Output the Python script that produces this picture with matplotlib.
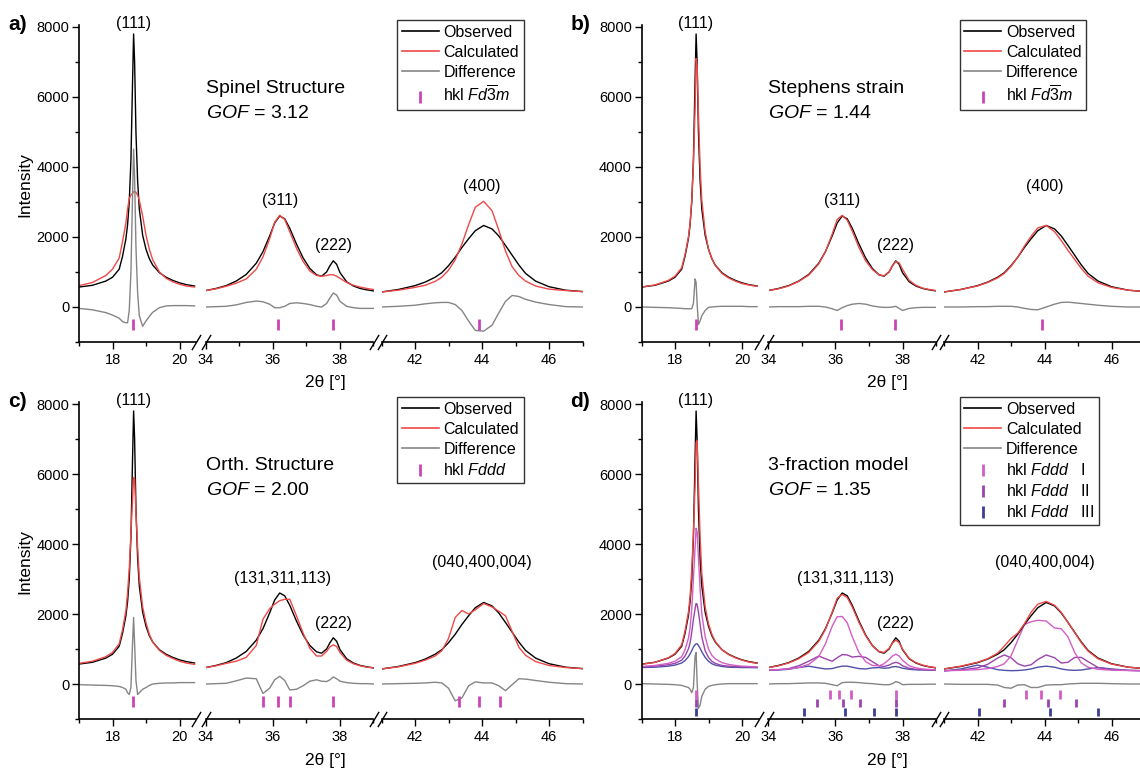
import numpy as np
import matplotlib
matplotlib.use('Agg')
import matplotlib.pyplot as plt
from matplotlib.lines import Line2D
from matplotlib.ticker import MultipleLocator

plt.rcParams['font.family'] = ['Liberation Sans', 'DejaVu Sans']
plt.rcParams['mathtext.fontset'] = 'custom'
plt.rcParams['mathtext.rm'] = 'Liberation Sans'
plt.rcParams['mathtext.it'] = 'Liberation Sans:italic'

# 2theta grid (three windows of the broken axis)
two_theta = [17.0, 17.4, 17.8, 18.0, 18.2, 18.3, 18.4, 18.45, 18.5, 18.55, 18.6, 18.63, 18.66,
             18.7, 18.75, 18.8, 18.9, 19.0, 19.1, 19.2, 19.4, 19.6, 19.8, 20.0, 20.2, 20.45,
             34.0, 34.3, 34.6, 34.9, 35.2, 35.5, 35.7, 35.9, 36.05, 36.2, 36.35, 36.5, 36.7, 36.9,
             37.1, 37.3, 37.45, 37.6, 37.7, 37.8, 37.9, 38.0, 38.2, 38.4, 38.6, 38.8, 39.0,
             41.0, 41.5, 42.0, 42.3, 42.6, 42.8, 43.0, 43.2, 43.4, 43.6, 43.8, 44.05, 44.3, 44.5,
             44.7, 44.9, 45.1, 45.3, 45.6, 46.0, 46.5, 47.0]

observed = [570, 620, 740, 850, 1080, 1450, 1950, 2350, 3000, 4200, 6500, 7800, 7000,
            5000, 3600, 2800, 2050, 1650, 1380, 1200, 980, 850, 760, 690, 640, 600,
            470, 530, 610, 740, 930, 1250, 1580, 2030, 2400, 2600, 2520, 2250, 1800, 1400,
            1100, 920, 880, 1000, 1180, 1320, 1220, 980, 720, 600, 530, 490, 460,
            430, 500, 610, 710, 850, 980, 1180, 1420, 1700, 1950, 2180, 2330, 2230, 2030,
            1760, 1480, 1200, 960, 740, 580, 480, 440]

calc_a = [610, 700, 900, 1080, 1400, 1870, 2400, 2800, 3100, 3200, 3250, 3290, 3300,
          3280, 3200, 3050, 2600, 2050, 1650, 1350, 1000, 820, 720, 650, 600, 570,
          470, 520, 590, 680, 800, 1080, 1430, 1950, 2420, 2620, 2500, 2150, 1680, 1300,
          1030, 900, 880, 900, 920, 920, 880, 820, 700, 620, 570, 530, 500,
          430, 480, 560, 620, 730, 850, 1050, 1350, 1800, 2350, 2850, 3020, 2750, 2200,
          1600, 1150, 900, 740, 600, 510, 470, 440]

calc_b = [570, 630, 760, 880, 1120, 1500, 2000, 2400, 3050, 4100, 5700, 7100, 6900,
          5500, 4000, 3050, 2150, 1660, 1380, 1190, 960, 830, 740, 670, 630, 590,
          470, 520, 600, 730, 910, 1230, 1580, 2080, 2500, 2620, 2480, 2170, 1700, 1320,
          1070, 920, 890, 1010, 1180, 1300, 1260, 1080, 760, 620, 540, 500, 470,
          430, 500, 600, 700, 830, 960, 1160, 1420, 1740, 2020, 2260, 2330, 2150, 1900,
          1620, 1360, 1100, 880, 690, 560, 480, 440]

calc_c = [590, 650, 780, 900, 1150, 1550, 2100, 2600, 3300, 4300, 5300, 5900, 5850,
          4900, 3900, 3050, 2200, 1750, 1420, 1200, 960, 820, 730, 650, 600, 560,
          470, 520, 590, 650, 760, 1100, 1850, 2150, 2280, 2380, 2420, 2420, 1950, 1450,
          1020, 800, 800, 930, 1060, 1120, 1070, 900, 680, 580, 520, 480, 460,
          430, 490, 590, 680, 800, 950, 1300, 1900, 2100, 2000, 2120, 2300, 2200, 2080,
          1950, 1500, 1050, 820, 640, 530, 470, 440]

calc_d = [560, 620, 750, 870, 1120, 1520, 2050, 2500, 3250, 4300, 5700, 6900, 6950,
          5700, 4200, 3150, 2200, 1720, 1420, 1220, 980, 840, 750, 680, 630, 590,
          470, 520, 600, 720, 900, 1220, 1560, 2050, 2450, 2560, 2470, 2200, 1760, 1380,
          1090, 930, 900, 1020, 1170, 1250, 1180, 1000, 730, 610, 540, 495, 465,
          430, 510, 620, 720, 880, 1080, 1300, 1450, 1720, 2050, 2280, 2360, 2250, 2050,
          1760, 1470, 1180, 940, 720, 570, 480, 440]

# single fractions of the 3-fraction model (panel d)
frac_1 = [500, 530, 590, 650, 780, 980, 1300, 1600, 2150, 3000, 3900, 4450, 4350,
          3600, 2700, 2000, 1350, 1000, 820, 720, 610, 560, 530, 510, 500, 490,
          400, 410, 430, 470, 560, 780, 1150, 1650, 1920, 1930, 1750, 1350, 900, 640,
          530, 520, 580, 700, 800, 850, 800, 680, 520, 460, 430, 415, 405,
          380, 390, 410, 440, 500, 580, 800, 1250, 1700, 1780, 1820, 1800, 1600, 1580,
          1350, 900, 600, 480, 420, 395, 385, 380]
frac_2 = [490, 510, 550, 590, 680, 800, 1000, 1170, 1480, 1850, 2150, 2300, 2280,
          2050, 1700, 1350, 950, 760, 650, 590, 530, 510, 500, 490, 490, 480,
          400, 410, 440, 520, 650, 800, 720, 650, 750, 840, 830, 770, 790, 760,
          640, 520, 500, 540, 590, 620, 590, 520, 450, 420, 410, 405, 400,
          380, 400, 460, 560, 740, 830, 750, 580, 510, 550, 700, 830, 750, 600,
          620, 760, 760, 640, 470, 410, 390, 380]
frac_3 = [470, 480, 510, 540, 600, 670, 780, 860, 950, 1060, 1120, 1150, 1150,
          1100, 1020, 920, 760, 650, 580, 540, 500, 480, 475, 470, 470, 465,
          390, 400, 420, 470, 510, 460, 430, 440, 480, 510, 510, 480, 440, 430,
          460, 470, 450, 460, 490, 500, 480, 450, 420, 405, 400, 395, 390,
          370, 430, 540, 480, 410, 390, 380, 385, 400, 430, 480, 510, 480, 430,
          400, 390, 400, 430, 470, 430, 390, 375]

hkl_spinel = [18.62, 36.15, 37.78, 43.92]
hkl_orth = [18.62, 35.7, 36.15, 36.5, 37.78, 43.3, 43.92, 44.55]
hkl_1 = [18.62, 35.84, 36.1, 36.46, 37.8, 43.45, 43.9, 44.45]
hkl_2 = [18.62, 35.46, 36.22, 36.73, 37.8, 42.8, 44.1, 44.93]
hkl_3 = [18.62, 35.05, 36.28, 37.15, 37.82, 42.03, 44.15, 45.6]

tt = np.array(two_theta)
obs = np.array(observed, dtype=float)

RED = '#f04848'
GRAY = '#858585'
MAG = '#cc44b4'
C1, C2, C3 = '#d25ec6', '#9a44ac', '#3c3c94'

W, H = 1140, 771
fig = plt.figure(figsize=(W / 100, H / 100), dpi=100)

segments = [(17, 20.5), (34, 39), (41, 47)]
seg_px = [(79, 196.25), (206, 373.5), (381.5, 582.5)]
y_top, y_bot = 25.25, 342


def px_axes(x0, x1, y0, y1):
    return fig.add_axes([x0 / W, 1 - y1 / H, (x1 - x0) / W, (y1 - y0) / H])


def draw_panel(dx, dy, calc, tag, title, gof, peaks, hkl_rows, leg_extra, fracs=(), ylabel=False):
    calc = np.array(calc, dtype=float)
    diff = obs - calc
    brk = dict(marker=[(-0.6, -1), (0.6, 1)], markersize=11, linestyle='none',
               color='k', mec='k', mew=1, clip_on=False)
    for i, ((lo, hi), (p0, p1)) in enumerate(zip(segments, seg_px)):
        ax = px_axes(p0 + dx, p1 + dx, y_top + dy, y_bot + dy)
        m = (tt >= lo) & (tt <= hi)
        for vals, col in fracs:
            ax.plot(tt[m], np.array(vals)[m], color=col, lw=1)
        ax.plot(tt[m], obs[m], color='k', lw=1)
        ax.plot(tt[m], calc[m], color=RED, lw=1)
        ax.plot(tt[m], diff[m], color=GRAY, lw=1)
        for pos, col, ylo, yhi in hkl_rows:
            p = np.array(pos)
            p = p[(p >= lo) & (p <= hi)]
            ax.vlines(p, ylo, yhi, color=col, lw=2)
        ax.set_xlim(lo, hi)
        ax.set_ylim(-1000, 8050)
        for s in ('top', 'right'):
            ax.spines[s].set_visible(False)
        ax.spines['bottom'].set_linewidth(1.2)
        ax.xaxis.set_major_locator(MultipleLocator(2))
        ax.xaxis.set_minor_locator(MultipleLocator(1))
        ax.tick_params(axis='x', which='major', direction='out', length=5, width=1, labelsize=10.5, pad=3)
        ax.tick_params(axis='x', which='minor', direction='out', length=3, width=1)
        if i == 0:
            ax.spines['left'].set_linewidth(1.2)
            ax.yaxis.set_major_locator(MultipleLocator(2000))
            ax.yaxis.set_minor_locator(MultipleLocator(1000))
            ax.tick_params(axis='y', which='major', direction='out', length=5, width=1, labelsize=10.5, pad=2)
            ax.tick_params(axis='y', which='minor', direction='out', length=3, width=1)
        else:
            ax.spines['left'].set_visible(False)
            ax.set_yticks([])
            ax.plot([0], [0], transform=ax.transAxes, **brk)
        if i < 2:
            ax.plot([1], [0], transform=ax.transAxes, **brk)
        ax.patch.set_alpha(0)
        for text, x, y in peaks:
            if lo <= x <= hi:
                ax.text(x, y, text, ha='center', va='center', fontsize=11.5, clip_on=False)
        if i == 1:
            ax.text(34.0, 6250, title, ha='left', va='center', fontsize=14)
            ax.text(34.0, 5520, r'$\mathit{GOF}$ = ' + gof, ha='left', va='center', fontsize=14)

    fig.text((8 + dx) / W, 1 - (24 + dy) / H, tag, ha='left', va='center',
             fontsize=15, fontweight='bold')
    fig.text((325 + dx) / W, 1 - (383 + dy) / H, '2θ [°]', ha='center', va='center',
             fontsize=12.5)
    if ylabel:
        fig.text(25 / W, 1 - (185 + dy) / H, 'Intensity', rotation=90, ha='center',
                 va='center', fontsize=12.5)

    handles = [Line2D([], [], color='k', lw=1.2),
               Line2D([], [], color=RED, lw=1.2),
               Line2D([], [], color=GRAY, lw=1.2)]
    labels = ['Observed', 'Calculated', 'Difference']
    for lab, col in leg_extra:
        handles.append(Line2D([], [], ls='none', marker='|', color=col, markersize=8, mew=2))
        labels.append(lab)
    fig.legend(handles, labels, loc='upper left',
               bbox_to_anchor=((397 + dx) / W, 1 - (20 + dy) / H),
               frameon=True, fancybox=False, edgecolor='#333333', framealpha=1,
               fontsize=11.5, handlelength=2.3, handletextpad=0.3, borderpad=0.3,
               labelspacing=0.32, borderaxespad=0, numpoints=1)


spinel_leg = [(r'hkl $\mathit{Fd}\overline{3}\mathit{m}$', MAG)]
peaks_spinel = [('(111)', 18.62, 8100), ('(311)', 36.2, 3050), ('(222)', 37.8, 1770), ('(400)', 44.0, 3430)]
peaks_orth = [('(111)', 18.62, 8100), ('(131,311,113)', 36.3, 3000), ('(222)', 37.8, 1740),
              ('(040,400,004)', 44.0, 3460)]

draw_panel(0, 0, calc_a, 'a)', 'Spinel Structure', '3.12', peaks_spinel,
           [(hkl_spinel, MAG, -650, -350)], spinel_leg, ylabel=True)
draw_panel(562.5, 0, calc_b, 'b)', 'Stephens strain', '1.44', peaks_spinel,
           [(hkl_spinel, MAG, -650, -350)], spinel_leg)
draw_panel(0, 377, calc_c, 'c)', 'Orth. Structure', '2.00', peaks_orth,
           [(hkl_orth, MAG, -650, -350)], [(r'hkl $\mathit{Fddd}$', MAG)], ylabel=True)
draw_panel(562.5, 377, calc_d, 'd)', '3-fraction model', '1.35', peaks_orth,
           [(hkl_1, C1, -420, -180), (hkl_2, C2, -670, -430), (hkl_3, C3, -920, -680)],
           [(r'hkl $\mathit{Fddd}$   I', C1), (r'hkl $\mathit{Fddd}$   II', C2),
            (r'hkl $\mathit{Fddd}$   III', C3)],
           fracs=[(frac_3, '#5050a8'), (frac_2, C2), (frac_1, C1)])

fig.savefig('out.png', dpi=100)
